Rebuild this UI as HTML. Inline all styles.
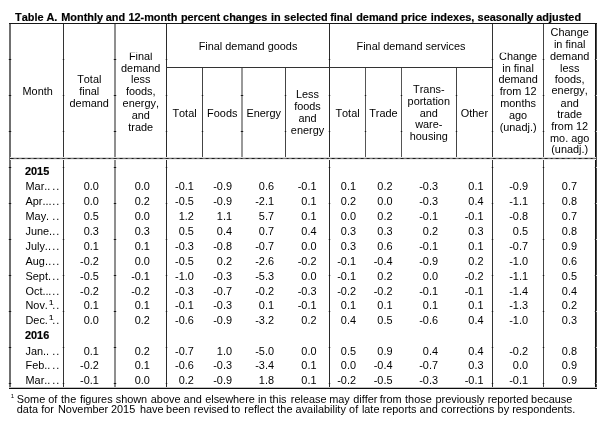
<!DOCTYPE html>
<html><head><meta charset="utf-8"><title>Table A</title>
<style>
html,body{margin:0;padding:0;background:#fff;}
body{font-kerning:none;width:603px;height:429px;position:relative;overflow:hidden;font-family:"Liberation Sans",sans-serif;}
#w{position:absolute;left:0;top:0;width:603px;height:429px;will-change:transform;font-size:10.9px;letter-spacing:0px;color:#000;}
.t{position:absolute;white-space:nowrap;line-height:12px;height:12px;}
.b{font-weight:bold;color:#000;-webkit-text-stroke:0.18px #000;}
.l{position:absolute;}
sup{font-size:8px;line-height:0;vertical-align:4.3px;letter-spacing:0;margin-left:1px;-webkit-text-stroke:0.15px #000;}
</style></head><body><div id="w">
<div class="l" style="left:9px;top:23px;width:2px;height:366px;background:#707070;"></div>
<div class="l" style="left:63px;top:23px;width:1px;height:366px;background:#333;"></div>
<div class="l" style="left:114px;top:23px;width:2px;height:366px;background:#8f8f8f;"></div>
<div class="l" style="left:166px;top:23px;width:1px;height:366px;background:#2a2a2a;"></div>
<div class="l" style="left:202px;top:67px;width:1px;height:92px;background:#444;"></div>
<div class="l" style="left:241px;top:67px;width:2px;height:92px;background:#999;"></div>
<div class="l" style="left:285px;top:67px;width:1px;height:92px;background:#444;"></div>
<div class="l" style="left:329px;top:23px;width:1px;height:366px;background:#2a2a2a;"></div>
<div class="l" style="left:365px;top:67px;width:1px;height:92px;background:#555;"></div>
<div class="l" style="left:401px;top:67px;width:1px;height:92px;background:#555;"></div>
<div class="l" style="left:456px;top:67px;width:1px;height:92px;background:#444;"></div>
<div class="l" style="left:492px;top:23px;width:1px;height:366px;background:#333;"></div>
<div class="l" style="left:543px;top:23px;width:1px;height:366px;background:#444;"></div>
<div class="l" style="left:595px;top:23px;width:1px;height:366px;background:#111;"></div>
<div class="l" style="left:596px;top:23px;width:1px;height:366px;background:#4a4a4a;"></div>
<div class="l" style="left:9px;top:23px;width:588px;height:1px;background:#181818;"></div>
<div class="l" style="left:9px;top:387px;width:588px;height:1px;background:#c0c0c0;"></div>
<div class="l" style="left:9px;top:388px;width:588px;height:1px;background:#0c0c0c;"></div>
<div class="l" style="left:166px;top:67px;width:327px;height:1px;background:#333;"></div>
<div class="l" style="left:10px;top:157px;width:586px;height:1px;background:#dcdcdc;"></div>
<div class="l" style="left:10px;top:158px;width:586px;height:1px;background:#7a7a7a;"></div>
<div class="l" style="left:10px;top:159px;width:586px;height:1px;background:#ececec;"></div>
<div class="l" style="left:10px;top:158px;width:586px;height:1px;background:transparent;background:repeating-linear-gradient(90deg,#1c1c1c 0,#1c1c1c 2.7px,transparent 2.7px,transparent 5.74px);background-position:0.6px 0;"></div>
<div class="l" style="left:8px;top:59px;width:4px;height:1px;background:#d0d0d0;"></div>
<div class="l" style="left:9px;top:59px;width:2px;height:1px;background:#181818;"></div>
<div class="l" style="left:62px;top:59px;width:3px;height:1px;background:#d0d0d0;"></div>
<div class="l" style="left:63px;top:59px;width:1px;height:1px;background:#181818;"></div>
<div class="l" style="left:113px;top:59px;width:4px;height:1px;background:#d0d0d0;"></div>
<div class="l" style="left:114px;top:59px;width:2px;height:1px;background:#181818;"></div>
<div class="l" style="left:165px;top:59px;width:3px;height:1px;background:#d0d0d0;"></div>
<div class="l" style="left:166px;top:59px;width:1px;height:1px;background:#181818;"></div>
<div class="l" style="left:328px;top:59px;width:3px;height:1px;background:#d0d0d0;"></div>
<div class="l" style="left:329px;top:59px;width:1px;height:1px;background:#181818;"></div>
<div class="l" style="left:491px;top:59px;width:3px;height:1px;background:#d0d0d0;"></div>
<div class="l" style="left:492px;top:59px;width:1px;height:1px;background:#181818;"></div>
<div class="l" style="left:542px;top:59px;width:3px;height:1px;background:#d0d0d0;"></div>
<div class="l" style="left:543px;top:59px;width:1px;height:1px;background:#181818;"></div>
<div class="l" style="left:594px;top:59px;width:3px;height:1px;background:#d0d0d0;"></div>
<div class="l" style="left:595px;top:59px;width:1px;height:1px;background:#181818;"></div>
<div class="l" style="left:8px;top:95px;width:4px;height:1px;background:#d0d0d0;"></div>
<div class="l" style="left:9px;top:95px;width:2px;height:1px;background:#181818;"></div>
<div class="l" style="left:62px;top:95px;width:3px;height:1px;background:#d0d0d0;"></div>
<div class="l" style="left:63px;top:95px;width:1px;height:1px;background:#181818;"></div>
<div class="l" style="left:113px;top:95px;width:4px;height:1px;background:#d0d0d0;"></div>
<div class="l" style="left:114px;top:95px;width:2px;height:1px;background:#181818;"></div>
<div class="l" style="left:165px;top:95px;width:3px;height:1px;background:#d0d0d0;"></div>
<div class="l" style="left:166px;top:95px;width:1px;height:1px;background:#181818;"></div>
<div class="l" style="left:201px;top:95px;width:3px;height:1px;background:#d0d0d0;"></div>
<div class="l" style="left:202px;top:95px;width:1px;height:1px;background:#181818;"></div>
<div class="l" style="left:240px;top:95px;width:4px;height:1px;background:#d0d0d0;"></div>
<div class="l" style="left:241px;top:95px;width:2px;height:1px;background:#181818;"></div>
<div class="l" style="left:284px;top:95px;width:3px;height:1px;background:#d0d0d0;"></div>
<div class="l" style="left:285px;top:95px;width:1px;height:1px;background:#181818;"></div>
<div class="l" style="left:328px;top:95px;width:3px;height:1px;background:#d0d0d0;"></div>
<div class="l" style="left:329px;top:95px;width:1px;height:1px;background:#181818;"></div>
<div class="l" style="left:364px;top:95px;width:3px;height:1px;background:#d0d0d0;"></div>
<div class="l" style="left:365px;top:95px;width:1px;height:1px;background:#181818;"></div>
<div class="l" style="left:400px;top:95px;width:3px;height:1px;background:#d0d0d0;"></div>
<div class="l" style="left:401px;top:95px;width:1px;height:1px;background:#181818;"></div>
<div class="l" style="left:455px;top:95px;width:3px;height:1px;background:#d0d0d0;"></div>
<div class="l" style="left:456px;top:95px;width:1px;height:1px;background:#181818;"></div>
<div class="l" style="left:491px;top:95px;width:3px;height:1px;background:#d0d0d0;"></div>
<div class="l" style="left:492px;top:95px;width:1px;height:1px;background:#181818;"></div>
<div class="l" style="left:542px;top:95px;width:3px;height:1px;background:#d0d0d0;"></div>
<div class="l" style="left:543px;top:95px;width:1px;height:1px;background:#181818;"></div>
<div class="l" style="left:594px;top:95px;width:3px;height:1px;background:#d0d0d0;"></div>
<div class="l" style="left:595px;top:95px;width:1px;height:1px;background:#181818;"></div>
<div class="l" style="left:8px;top:131px;width:4px;height:1px;background:#d0d0d0;"></div>
<div class="l" style="left:9px;top:131px;width:2px;height:1px;background:#181818;"></div>
<div class="l" style="left:62px;top:131px;width:3px;height:1px;background:#d0d0d0;"></div>
<div class="l" style="left:63px;top:131px;width:1px;height:1px;background:#181818;"></div>
<div class="l" style="left:113px;top:131px;width:4px;height:1px;background:#d0d0d0;"></div>
<div class="l" style="left:114px;top:131px;width:2px;height:1px;background:#181818;"></div>
<div class="l" style="left:165px;top:131px;width:3px;height:1px;background:#d0d0d0;"></div>
<div class="l" style="left:166px;top:131px;width:1px;height:1px;background:#181818;"></div>
<div class="l" style="left:201px;top:131px;width:3px;height:1px;background:#d0d0d0;"></div>
<div class="l" style="left:202px;top:131px;width:1px;height:1px;background:#181818;"></div>
<div class="l" style="left:240px;top:131px;width:4px;height:1px;background:#d0d0d0;"></div>
<div class="l" style="left:241px;top:131px;width:2px;height:1px;background:#181818;"></div>
<div class="l" style="left:284px;top:131px;width:3px;height:1px;background:#d0d0d0;"></div>
<div class="l" style="left:285px;top:131px;width:1px;height:1px;background:#181818;"></div>
<div class="l" style="left:328px;top:131px;width:3px;height:1px;background:#d0d0d0;"></div>
<div class="l" style="left:329px;top:131px;width:1px;height:1px;background:#181818;"></div>
<div class="l" style="left:364px;top:131px;width:3px;height:1px;background:#d0d0d0;"></div>
<div class="l" style="left:365px;top:131px;width:1px;height:1px;background:#181818;"></div>
<div class="l" style="left:400px;top:131px;width:3px;height:1px;background:#d0d0d0;"></div>
<div class="l" style="left:401px;top:131px;width:1px;height:1px;background:#181818;"></div>
<div class="l" style="left:455px;top:131px;width:3px;height:1px;background:#d0d0d0;"></div>
<div class="l" style="left:456px;top:131px;width:1px;height:1px;background:#181818;"></div>
<div class="l" style="left:491px;top:131px;width:3px;height:1px;background:#d0d0d0;"></div>
<div class="l" style="left:492px;top:131px;width:1px;height:1px;background:#181818;"></div>
<div class="l" style="left:542px;top:131px;width:3px;height:1px;background:#d0d0d0;"></div>
<div class="l" style="left:543px;top:131px;width:1px;height:1px;background:#181818;"></div>
<div class="l" style="left:594px;top:131px;width:3px;height:1px;background:#d0d0d0;"></div>
<div class="l" style="left:595px;top:131px;width:1px;height:1px;background:#181818;"></div>
<div class="l" style="left:8px;top:167px;width:4px;height:1px;background:#d0d0d0;"></div>
<div class="l" style="left:9px;top:167px;width:2px;height:1px;background:#181818;"></div>
<div class="l" style="left:62px;top:167px;width:3px;height:1px;background:#d0d0d0;"></div>
<div class="l" style="left:63px;top:167px;width:1px;height:1px;background:#181818;"></div>
<div class="l" style="left:113px;top:167px;width:4px;height:1px;background:#d0d0d0;"></div>
<div class="l" style="left:114px;top:167px;width:2px;height:1px;background:#181818;"></div>
<div class="l" style="left:165px;top:167px;width:3px;height:1px;background:#d0d0d0;"></div>
<div class="l" style="left:166px;top:167px;width:1px;height:1px;background:#181818;"></div>
<div class="l" style="left:328px;top:167px;width:3px;height:1px;background:#d0d0d0;"></div>
<div class="l" style="left:329px;top:167px;width:1px;height:1px;background:#181818;"></div>
<div class="l" style="left:491px;top:167px;width:3px;height:1px;background:#d0d0d0;"></div>
<div class="l" style="left:492px;top:167px;width:1px;height:1px;background:#181818;"></div>
<div class="l" style="left:542px;top:167px;width:3px;height:1px;background:#d0d0d0;"></div>
<div class="l" style="left:543px;top:167px;width:1px;height:1px;background:#181818;"></div>
<div class="l" style="left:594px;top:167px;width:3px;height:1px;background:#d0d0d0;"></div>
<div class="l" style="left:595px;top:167px;width:1px;height:1px;background:#181818;"></div>
<div class="l" style="left:8px;top:203px;width:4px;height:1px;background:#d0d0d0;"></div>
<div class="l" style="left:9px;top:203px;width:2px;height:1px;background:#181818;"></div>
<div class="l" style="left:62px;top:203px;width:3px;height:1px;background:#d0d0d0;"></div>
<div class="l" style="left:63px;top:203px;width:1px;height:1px;background:#181818;"></div>
<div class="l" style="left:113px;top:203px;width:4px;height:1px;background:#d0d0d0;"></div>
<div class="l" style="left:114px;top:203px;width:2px;height:1px;background:#181818;"></div>
<div class="l" style="left:165px;top:203px;width:3px;height:1px;background:#d0d0d0;"></div>
<div class="l" style="left:166px;top:203px;width:1px;height:1px;background:#181818;"></div>
<div class="l" style="left:328px;top:203px;width:3px;height:1px;background:#d0d0d0;"></div>
<div class="l" style="left:329px;top:203px;width:1px;height:1px;background:#181818;"></div>
<div class="l" style="left:491px;top:203px;width:3px;height:1px;background:#d0d0d0;"></div>
<div class="l" style="left:492px;top:203px;width:1px;height:1px;background:#181818;"></div>
<div class="l" style="left:542px;top:203px;width:3px;height:1px;background:#d0d0d0;"></div>
<div class="l" style="left:543px;top:203px;width:1px;height:1px;background:#181818;"></div>
<div class="l" style="left:594px;top:203px;width:3px;height:1px;background:#d0d0d0;"></div>
<div class="l" style="left:595px;top:203px;width:1px;height:1px;background:#181818;"></div>
<div class="l" style="left:8px;top:239px;width:4px;height:1px;background:#d0d0d0;"></div>
<div class="l" style="left:9px;top:239px;width:2px;height:1px;background:#181818;"></div>
<div class="l" style="left:62px;top:239px;width:3px;height:1px;background:#d0d0d0;"></div>
<div class="l" style="left:63px;top:239px;width:1px;height:1px;background:#181818;"></div>
<div class="l" style="left:113px;top:239px;width:4px;height:1px;background:#d0d0d0;"></div>
<div class="l" style="left:114px;top:239px;width:2px;height:1px;background:#181818;"></div>
<div class="l" style="left:165px;top:239px;width:3px;height:1px;background:#d0d0d0;"></div>
<div class="l" style="left:166px;top:239px;width:1px;height:1px;background:#181818;"></div>
<div class="l" style="left:328px;top:239px;width:3px;height:1px;background:#d0d0d0;"></div>
<div class="l" style="left:329px;top:239px;width:1px;height:1px;background:#181818;"></div>
<div class="l" style="left:491px;top:239px;width:3px;height:1px;background:#d0d0d0;"></div>
<div class="l" style="left:492px;top:239px;width:1px;height:1px;background:#181818;"></div>
<div class="l" style="left:542px;top:239px;width:3px;height:1px;background:#d0d0d0;"></div>
<div class="l" style="left:543px;top:239px;width:1px;height:1px;background:#181818;"></div>
<div class="l" style="left:594px;top:239px;width:3px;height:1px;background:#d0d0d0;"></div>
<div class="l" style="left:595px;top:239px;width:1px;height:1px;background:#181818;"></div>
<div class="l" style="left:8px;top:275px;width:4px;height:1px;background:#d0d0d0;"></div>
<div class="l" style="left:9px;top:275px;width:2px;height:1px;background:#181818;"></div>
<div class="l" style="left:62px;top:275px;width:3px;height:1px;background:#d0d0d0;"></div>
<div class="l" style="left:63px;top:275px;width:1px;height:1px;background:#181818;"></div>
<div class="l" style="left:113px;top:275px;width:4px;height:1px;background:#d0d0d0;"></div>
<div class="l" style="left:114px;top:275px;width:2px;height:1px;background:#181818;"></div>
<div class="l" style="left:165px;top:275px;width:3px;height:1px;background:#d0d0d0;"></div>
<div class="l" style="left:166px;top:275px;width:1px;height:1px;background:#181818;"></div>
<div class="l" style="left:328px;top:275px;width:3px;height:1px;background:#d0d0d0;"></div>
<div class="l" style="left:329px;top:275px;width:1px;height:1px;background:#181818;"></div>
<div class="l" style="left:491px;top:275px;width:3px;height:1px;background:#d0d0d0;"></div>
<div class="l" style="left:492px;top:275px;width:1px;height:1px;background:#181818;"></div>
<div class="l" style="left:542px;top:275px;width:3px;height:1px;background:#d0d0d0;"></div>
<div class="l" style="left:543px;top:275px;width:1px;height:1px;background:#181818;"></div>
<div class="l" style="left:594px;top:275px;width:3px;height:1px;background:#d0d0d0;"></div>
<div class="l" style="left:595px;top:275px;width:1px;height:1px;background:#181818;"></div>
<div class="l" style="left:8px;top:311px;width:4px;height:1px;background:#d0d0d0;"></div>
<div class="l" style="left:9px;top:311px;width:2px;height:1px;background:#181818;"></div>
<div class="l" style="left:62px;top:311px;width:3px;height:1px;background:#d0d0d0;"></div>
<div class="l" style="left:63px;top:311px;width:1px;height:1px;background:#181818;"></div>
<div class="l" style="left:113px;top:311px;width:4px;height:1px;background:#d0d0d0;"></div>
<div class="l" style="left:114px;top:311px;width:2px;height:1px;background:#181818;"></div>
<div class="l" style="left:165px;top:311px;width:3px;height:1px;background:#d0d0d0;"></div>
<div class="l" style="left:166px;top:311px;width:1px;height:1px;background:#181818;"></div>
<div class="l" style="left:328px;top:311px;width:3px;height:1px;background:#d0d0d0;"></div>
<div class="l" style="left:329px;top:311px;width:1px;height:1px;background:#181818;"></div>
<div class="l" style="left:491px;top:311px;width:3px;height:1px;background:#d0d0d0;"></div>
<div class="l" style="left:492px;top:311px;width:1px;height:1px;background:#181818;"></div>
<div class="l" style="left:542px;top:311px;width:3px;height:1px;background:#d0d0d0;"></div>
<div class="l" style="left:543px;top:311px;width:1px;height:1px;background:#181818;"></div>
<div class="l" style="left:594px;top:311px;width:3px;height:1px;background:#d0d0d0;"></div>
<div class="l" style="left:595px;top:311px;width:1px;height:1px;background:#181818;"></div>
<div class="l" style="left:8px;top:347px;width:4px;height:1px;background:#d0d0d0;"></div>
<div class="l" style="left:9px;top:347px;width:2px;height:1px;background:#181818;"></div>
<div class="l" style="left:62px;top:347px;width:3px;height:1px;background:#d0d0d0;"></div>
<div class="l" style="left:63px;top:347px;width:1px;height:1px;background:#181818;"></div>
<div class="l" style="left:113px;top:347px;width:4px;height:1px;background:#d0d0d0;"></div>
<div class="l" style="left:114px;top:347px;width:2px;height:1px;background:#181818;"></div>
<div class="l" style="left:165px;top:347px;width:3px;height:1px;background:#d0d0d0;"></div>
<div class="l" style="left:166px;top:347px;width:1px;height:1px;background:#181818;"></div>
<div class="l" style="left:328px;top:347px;width:3px;height:1px;background:#d0d0d0;"></div>
<div class="l" style="left:329px;top:347px;width:1px;height:1px;background:#181818;"></div>
<div class="l" style="left:491px;top:347px;width:3px;height:1px;background:#d0d0d0;"></div>
<div class="l" style="left:492px;top:347px;width:1px;height:1px;background:#181818;"></div>
<div class="l" style="left:542px;top:347px;width:3px;height:1px;background:#d0d0d0;"></div>
<div class="l" style="left:543px;top:347px;width:1px;height:1px;background:#181818;"></div>
<div class="l" style="left:594px;top:347px;width:3px;height:1px;background:#d0d0d0;"></div>
<div class="l" style="left:595px;top:347px;width:1px;height:1px;background:#181818;"></div>
<div class="l" style="left:8px;top:383px;width:4px;height:1px;background:#d0d0d0;"></div>
<div class="l" style="left:9px;top:383px;width:2px;height:1px;background:#181818;"></div>
<div class="l" style="left:62px;top:383px;width:3px;height:1px;background:#d0d0d0;"></div>
<div class="l" style="left:63px;top:383px;width:1px;height:1px;background:#181818;"></div>
<div class="l" style="left:113px;top:383px;width:4px;height:1px;background:#d0d0d0;"></div>
<div class="l" style="left:114px;top:383px;width:2px;height:1px;background:#181818;"></div>
<div class="l" style="left:165px;top:383px;width:3px;height:1px;background:#d0d0d0;"></div>
<div class="l" style="left:166px;top:383px;width:1px;height:1px;background:#181818;"></div>
<div class="l" style="left:328px;top:383px;width:3px;height:1px;background:#d0d0d0;"></div>
<div class="l" style="left:329px;top:383px;width:1px;height:1px;background:#181818;"></div>
<div class="l" style="left:491px;top:383px;width:3px;height:1px;background:#d0d0d0;"></div>
<div class="l" style="left:492px;top:383px;width:1px;height:1px;background:#181818;"></div>
<div class="l" style="left:542px;top:383px;width:3px;height:1px;background:#d0d0d0;"></div>
<div class="l" style="left:543px;top:383px;width:1px;height:1px;background:#181818;"></div>
<div class="l" style="left:594px;top:383px;width:3px;height:1px;background:#d0d0d0;"></div>
<div class="l" style="left:595px;top:383px;width:1px;height:1px;background:#181818;"></div>
<div class="t b" style="top:11.00px;left:15.10px;">Table</div>
<div class="t b" style="top:11.00px;left:46.40px;">A.</div>
<div class="t b" style="top:11.00px;left:61.30px;">Monthly</div>
<div class="t b" style="top:11.00px;left:105.80px;">and</div>
<div class="t b" style="top:11.00px;left:128.40px;">12-month</div>
<div class="t b" style="top:11.00px;left:180.90px;">percent</div>
<div class="t b" style="top:11.00px;left:223.10px;">changes</div>
<div class="t b" style="top:11.00px;left:270.90px;">in</div>
<div class="t b" style="top:11.00px;left:284.10px;">selected</div>
<div class="t b" style="top:11.00px;left:330.20px;">final</div>
<div class="t b" style="top:11.00px;left:356.20px;">demand</div>
<div class="t b" style="top:11.00px;left:401.10px;">price</div>
<div class="t b" style="top:11.00px;left:430.70px;">indexes,</div>
<div class="t b" style="top:11.00px;left:477.60px;">seasonally</div>
<div class="t b" style="top:11.00px;left:536.30px;">adjusted</div>
<div class="t" style="top:85.00px;left:22.50px;">Month</div>
<div class="t" style="top:73.00px;left:-60.75px;width:300px;text-align:center;">Total</div>
<div class="t" style="top:85.00px;left:-60.75px;width:300px;text-align:center;">final</div>
<div class="t" style="top:97.00px;left:-60.75px;width:300px;text-align:center;">demand</div>
<div class="t" style="top:50.00px;left:-9.25px;width:300px;text-align:center;">Final</div>
<div class="t" style="top:62.00px;left:-9.25px;width:300px;text-align:center;">demand</div>
<div class="t" style="top:73.00px;left:-9.25px;width:300px;text-align:center;">less</div>
<div class="t" style="top:85.00px;left:-9.25px;width:300px;text-align:center;">foods,</div>
<div class="t" style="top:97.00px;left:-9.25px;width:300px;text-align:center;">energy,</div>
<div class="t" style="top:109.00px;left:-9.25px;width:300px;text-align:center;">and</div>
<div class="t" style="top:121.00px;left:-9.25px;width:300px;text-align:center;">trade</div>
<div class="t" style="top:40.00px;left:98.00px;width:300px;text-align:center;">Final demand goods</div>
<div class="t" style="top:40.00px;left:261.00px;width:300px;text-align:center;">Final demand services</div>
<div class="t" style="top:107.00px;left:34.50px;width:300px;text-align:center;">Total</div>
<div class="t" style="top:107.00px;left:72.25px;width:300px;text-align:center;">Foods</div>
<div class="t" style="top:107.00px;left:113.75px;width:300px;text-align:center;">Energy</div>
<div class="t" style="top:88.00px;left:157.50px;width:300px;text-align:center;">Less</div>
<div class="t" style="top:100.00px;left:157.50px;width:300px;text-align:center;">foods</div>
<div class="t" style="top:112.00px;left:157.50px;width:300px;text-align:center;">and</div>
<div class="t" style="top:124.00px;left:157.50px;width:300px;text-align:center;">energy</div>
<div class="t" style="top:107.00px;left:197.50px;width:300px;text-align:center;">Total</div>
<div class="t" style="top:107.00px;left:233.40px;width:300px;text-align:center;">Trade</div>
<div class="t" style="top:83.00px;left:278.80px;width:300px;text-align:center;">Trans-</div>
<div class="t" style="top:95.00px;left:278.80px;width:300px;text-align:center;">portation</div>
<div class="t" style="top:107.00px;left:278.80px;width:300px;text-align:center;">and</div>
<div class="t" style="top:118.00px;left:278.80px;width:300px;text-align:center;">ware-</div>
<div class="t" style="top:130.00px;left:278.80px;width:300px;text-align:center;">housing</div>
<div class="t" style="top:107.00px;left:324.40px;width:300px;text-align:center;">Other</div>
<div class="t" style="top:50.00px;left:368.10px;width:300px;text-align:center;">Change</div>
<div class="t" style="top:62.00px;left:368.10px;width:300px;text-align:center;">in final</div>
<div class="t" style="top:73.00px;left:368.10px;width:300px;text-align:center;">demand</div>
<div class="t" style="top:85.00px;left:368.10px;width:300px;text-align:center;">from 12</div>
<div class="t" style="top:97.00px;left:368.10px;width:300px;text-align:center;">months</div>
<div class="t" style="top:109.00px;left:368.10px;width:300px;text-align:center;">ago</div>
<div class="t" style="top:121.00px;left:368.10px;width:300px;text-align:center;">(unadj.)</div>
<div class="t" style="top:26.00px;left:419.70px;width:300px;text-align:center;">Change</div>
<div class="t" style="top:38.00px;left:419.70px;width:300px;text-align:center;">in final</div>
<div class="t" style="top:50.00px;left:419.70px;width:300px;text-align:center;">demand</div>
<div class="t" style="top:62.00px;left:419.70px;width:300px;text-align:center;">less</div>
<div class="t" style="top:73.00px;left:419.70px;width:300px;text-align:center;">foods,</div>
<div class="t" style="top:84.00px;left:419.70px;width:300px;text-align:center;">energy,</div>
<div class="t" style="top:97.00px;left:419.70px;width:300px;text-align:center;">and</div>
<div class="t" style="top:108.00px;left:419.70px;width:300px;text-align:center;">trade</div>
<div class="t" style="top:120.00px;left:419.70px;width:300px;text-align:center;">from 12</div>
<div class="t" style="top:132.00px;left:419.70px;width:300px;text-align:center;">mo. ago</div>
<div class="t" style="top:143.00px;left:419.70px;width:300px;text-align:center;">(unadj.)</div>
<div class="l" style="left:126px;top:52px;width:30px;height:1px;background:rgba(255,255,255,0.7);"></div>
<div class="l" style="left:498px;top:52px;width:40px;height:1px;background:rgba(255,255,255,0.7);"></div>
<div class="t b" style="top:165.00px;left:25.00px;">2015</div>
<div class="t b" style="top:329.00px;left:25.00px;">2016</div>
<div class="t" style="top:180.00px;left:25.50px;">Mar..</div>
<div class="t" style="top:180.00px;left:-239.80px;width:300px;text-align:right;letter-spacing:0.97px;">..</div>
<div class="t" style="top:180.00px;left:-201.20px;width:300px;text-align:right;">0.0</div>
<div class="t" style="top:180.00px;left:-150.10px;width:300px;text-align:right;">0.0</div>
<div class="t" style="top:180.00px;left:-106.20px;width:300px;text-align:right;">-0.1</div>
<div class="t" style="top:180.00px;left:-68.00px;width:300px;text-align:right;">-0.9</div>
<div class="t" style="top:180.00px;left:-26.00px;width:300px;text-align:right;">0.6</div>
<div class="t" style="top:180.00px;left:16.50px;width:300px;text-align:right;">-0.1</div>
<div class="t" style="top:180.00px;left:56.00px;width:300px;text-align:right;">0.1</div>
<div class="t" style="top:180.00px;left:92.50px;width:300px;text-align:right;">0.2</div>
<div class="t" style="top:180.00px;left:138.00px;width:300px;text-align:right;">-0.3</div>
<div class="t" style="top:180.00px;left:183.50px;width:300px;text-align:right;">0.1</div>
<div class="t" style="top:180.00px;left:228.00px;width:300px;text-align:right;">-0.9</div>
<div class="t" style="top:180.00px;left:277.00px;width:300px;text-align:right;">0.7</div>
<div class="t" style="top:195.00px;left:25.50px;">Apr...</div>
<div class="t" style="top:195.00px;left:-239.80px;width:300px;text-align:right;letter-spacing:0.97px;">..</div>
<div class="t" style="top:195.00px;left:-201.20px;width:300px;text-align:right;">0.0</div>
<div class="t" style="top:195.00px;left:-150.10px;width:300px;text-align:right;">0.2</div>
<div class="t" style="top:195.00px;left:-106.20px;width:300px;text-align:right;">-0.5</div>
<div class="t" style="top:195.00px;left:-68.00px;width:300px;text-align:right;">-0.9</div>
<div class="t" style="top:195.00px;left:-26.00px;width:300px;text-align:right;">-2.1</div>
<div class="t" style="top:195.00px;left:16.50px;width:300px;text-align:right;">0.1</div>
<div class="t" style="top:195.00px;left:56.00px;width:300px;text-align:right;">0.2</div>
<div class="t" style="top:195.00px;left:92.50px;width:300px;text-align:right;">0.0</div>
<div class="t" style="top:195.00px;left:138.00px;width:300px;text-align:right;">-0.3</div>
<div class="t" style="top:195.00px;left:183.50px;width:300px;text-align:right;">0.4</div>
<div class="t" style="top:195.00px;left:228.00px;width:300px;text-align:right;">-1.1</div>
<div class="t" style="top:195.00px;left:277.00px;width:300px;text-align:right;">0.8</div>
<div class="t" style="top:210.00px;left:25.50px;">May.</div>
<div class="t" style="top:210.00px;left:-239.80px;width:300px;text-align:right;letter-spacing:0.97px;">..</div>
<div class="t" style="top:210.00px;left:-201.20px;width:300px;text-align:right;">0.5</div>
<div class="t" style="top:210.00px;left:-150.10px;width:300px;text-align:right;">0.0</div>
<div class="t" style="top:210.00px;left:-106.20px;width:300px;text-align:right;">1.2</div>
<div class="t" style="top:210.00px;left:-68.00px;width:300px;text-align:right;">1.1</div>
<div class="t" style="top:210.00px;left:-26.00px;width:300px;text-align:right;">5.7</div>
<div class="t" style="top:210.00px;left:16.50px;width:300px;text-align:right;">0.1</div>
<div class="t" style="top:210.00px;left:56.00px;width:300px;text-align:right;">0.0</div>
<div class="t" style="top:210.00px;left:92.50px;width:300px;text-align:right;">0.2</div>
<div class="t" style="top:210.00px;left:138.00px;width:300px;text-align:right;">-0.1</div>
<div class="t" style="top:210.00px;left:183.50px;width:300px;text-align:right;">-0.1</div>
<div class="t" style="top:210.00px;left:228.00px;width:300px;text-align:right;">-0.8</div>
<div class="t" style="top:210.00px;left:277.00px;width:300px;text-align:right;">0.7</div>
<div class="t" style="top:225.00px;left:25.50px;">June.</div>
<div class="t" style="top:225.00px;left:-239.80px;width:300px;text-align:right;letter-spacing:0.97px;">..</div>
<div class="t" style="top:225.00px;left:-201.20px;width:300px;text-align:right;">0.3</div>
<div class="t" style="top:225.00px;left:-150.10px;width:300px;text-align:right;">0.3</div>
<div class="t" style="top:225.00px;left:-106.20px;width:300px;text-align:right;">0.5</div>
<div class="t" style="top:225.00px;left:-68.00px;width:300px;text-align:right;">0.4</div>
<div class="t" style="top:225.00px;left:-26.00px;width:300px;text-align:right;">0.7</div>
<div class="t" style="top:225.00px;left:16.50px;width:300px;text-align:right;">0.4</div>
<div class="t" style="top:225.00px;left:56.00px;width:300px;text-align:right;">0.3</div>
<div class="t" style="top:225.00px;left:92.50px;width:300px;text-align:right;">0.3</div>
<div class="t" style="top:225.00px;left:138.00px;width:300px;text-align:right;">0.2</div>
<div class="t" style="top:225.00px;left:183.50px;width:300px;text-align:right;">0.3</div>
<div class="t" style="top:225.00px;left:228.00px;width:300px;text-align:right;">0.5</div>
<div class="t" style="top:225.00px;left:277.00px;width:300px;text-align:right;">0.8</div>
<div class="t" style="top:240.00px;left:25.50px;">July..</div>
<div class="t" style="top:240.00px;left:-239.80px;width:300px;text-align:right;letter-spacing:0.97px;">..</div>
<div class="t" style="top:240.00px;left:-201.20px;width:300px;text-align:right;">0.1</div>
<div class="t" style="top:240.00px;left:-150.10px;width:300px;text-align:right;">0.1</div>
<div class="t" style="top:240.00px;left:-106.20px;width:300px;text-align:right;">-0.3</div>
<div class="t" style="top:240.00px;left:-68.00px;width:300px;text-align:right;">-0.8</div>
<div class="t" style="top:240.00px;left:-26.00px;width:300px;text-align:right;">-0.7</div>
<div class="t" style="top:240.00px;left:16.50px;width:300px;text-align:right;">0.0</div>
<div class="t" style="top:240.00px;left:56.00px;width:300px;text-align:right;">0.3</div>
<div class="t" style="top:240.00px;left:92.50px;width:300px;text-align:right;">0.6</div>
<div class="t" style="top:240.00px;left:138.00px;width:300px;text-align:right;">-0.1</div>
<div class="t" style="top:240.00px;left:183.50px;width:300px;text-align:right;">0.1</div>
<div class="t" style="top:240.00px;left:228.00px;width:300px;text-align:right;">-0.7</div>
<div class="t" style="top:240.00px;left:277.00px;width:300px;text-align:right;">0.9</div>
<div class="t" style="top:255.00px;left:25.50px;">Aug.</div>
<div class="t" style="top:255.00px;left:-239.80px;width:300px;text-align:right;letter-spacing:0.97px;">...</div>
<div class="t" style="top:255.00px;left:-201.20px;width:300px;text-align:right;">-0.2</div>
<div class="t" style="top:255.00px;left:-150.10px;width:300px;text-align:right;">0.0</div>
<div class="t" style="top:255.00px;left:-106.20px;width:300px;text-align:right;">-0.5</div>
<div class="t" style="top:255.00px;left:-68.00px;width:300px;text-align:right;">0.2</div>
<div class="t" style="top:255.00px;left:-26.00px;width:300px;text-align:right;">-2.6</div>
<div class="t" style="top:255.00px;left:16.50px;width:300px;text-align:right;">-0.2</div>
<div class="t" style="top:255.00px;left:56.00px;width:300px;text-align:right;">-0.1</div>
<div class="t" style="top:255.00px;left:92.50px;width:300px;text-align:right;">-0.4</div>
<div class="t" style="top:255.00px;left:138.00px;width:300px;text-align:right;">-0.9</div>
<div class="t" style="top:255.00px;left:183.50px;width:300px;text-align:right;">0.2</div>
<div class="t" style="top:255.00px;left:228.00px;width:300px;text-align:right;">-1.0</div>
<div class="t" style="top:255.00px;left:277.00px;width:300px;text-align:right;">0.6</div>
<div class="t" style="top:270.00px;left:25.50px;">Sept.</div>
<div class="t" style="top:270.00px;left:-239.80px;width:300px;text-align:right;letter-spacing:0.97px;">..</div>
<div class="t" style="top:270.00px;left:-201.20px;width:300px;text-align:right;">-0.5</div>
<div class="t" style="top:270.00px;left:-150.10px;width:300px;text-align:right;">-0.1</div>
<div class="t" style="top:270.00px;left:-106.20px;width:300px;text-align:right;">-1.0</div>
<div class="t" style="top:270.00px;left:-68.00px;width:300px;text-align:right;">-0.3</div>
<div class="t" style="top:270.00px;left:-26.00px;width:300px;text-align:right;">-5.3</div>
<div class="t" style="top:270.00px;left:16.50px;width:300px;text-align:right;">0.0</div>
<div class="t" style="top:270.00px;left:56.00px;width:300px;text-align:right;">-0.1</div>
<div class="t" style="top:270.00px;left:92.50px;width:300px;text-align:right;">0.2</div>
<div class="t" style="top:270.00px;left:138.00px;width:300px;text-align:right;">0.0</div>
<div class="t" style="top:270.00px;left:183.50px;width:300px;text-align:right;">-0.2</div>
<div class="t" style="top:270.00px;left:228.00px;width:300px;text-align:right;">-1.1</div>
<div class="t" style="top:270.00px;left:277.00px;width:300px;text-align:right;">0.5</div>
<div class="t" style="top:285.00px;left:25.50px;">Oct..</div>
<div class="t" style="top:285.00px;left:-239.80px;width:300px;text-align:right;letter-spacing:0.97px;">...</div>
<div class="t" style="top:285.00px;left:-201.20px;width:300px;text-align:right;">-0.2</div>
<div class="t" style="top:285.00px;left:-150.10px;width:300px;text-align:right;">-0.2</div>
<div class="t" style="top:285.00px;left:-106.20px;width:300px;text-align:right;">-0.3</div>
<div class="t" style="top:285.00px;left:-68.00px;width:300px;text-align:right;">-0.7</div>
<div class="t" style="top:285.00px;left:-26.00px;width:300px;text-align:right;">-0.2</div>
<div class="t" style="top:285.00px;left:16.50px;width:300px;text-align:right;">-0.3</div>
<div class="t" style="top:285.00px;left:56.00px;width:300px;text-align:right;">-0.2</div>
<div class="t" style="top:285.00px;left:92.50px;width:300px;text-align:right;">-0.2</div>
<div class="t" style="top:285.00px;left:138.00px;width:300px;text-align:right;">-0.1</div>
<div class="t" style="top:285.00px;left:183.50px;width:300px;text-align:right;">-0.1</div>
<div class="t" style="top:285.00px;left:228.00px;width:300px;text-align:right;">-1.4</div>
<div class="t" style="top:285.00px;left:277.00px;width:300px;text-align:right;">0.4</div>
<div class="t" style="top:299.00px;left:25.50px;">Nov.<sup>1</sup></div>
<div class="t" style="top:299.00px;left:-239.80px;width:300px;text-align:right;letter-spacing:0.97px;">..</div>
<div class="t" style="top:299.00px;left:-201.20px;width:300px;text-align:right;">0.1</div>
<div class="t" style="top:299.00px;left:-150.10px;width:300px;text-align:right;">0.1</div>
<div class="t" style="top:299.00px;left:-106.20px;width:300px;text-align:right;">-0.1</div>
<div class="t" style="top:299.00px;left:-68.00px;width:300px;text-align:right;">-0.3</div>
<div class="t" style="top:299.00px;left:-26.00px;width:300px;text-align:right;">0.1</div>
<div class="t" style="top:299.00px;left:16.50px;width:300px;text-align:right;">-0.1</div>
<div class="t" style="top:299.00px;left:56.00px;width:300px;text-align:right;">0.1</div>
<div class="t" style="top:299.00px;left:92.50px;width:300px;text-align:right;">0.1</div>
<div class="t" style="top:299.00px;left:138.00px;width:300px;text-align:right;">0.1</div>
<div class="t" style="top:299.00px;left:183.50px;width:300px;text-align:right;">0.1</div>
<div class="t" style="top:299.00px;left:228.00px;width:300px;text-align:right;">-1.3</div>
<div class="t" style="top:299.00px;left:277.00px;width:300px;text-align:right;">0.2</div>
<div class="t" style="top:314.00px;left:25.50px;">Dec.<sup>1</sup></div>
<div class="t" style="top:314.00px;left:-239.80px;width:300px;text-align:right;letter-spacing:0.97px;">..</div>
<div class="t" style="top:314.00px;left:-201.20px;width:300px;text-align:right;">0.0</div>
<div class="t" style="top:314.00px;left:-150.10px;width:300px;text-align:right;">0.2</div>
<div class="t" style="top:314.00px;left:-106.20px;width:300px;text-align:right;">-0.6</div>
<div class="t" style="top:314.00px;left:-68.00px;width:300px;text-align:right;">-0.9</div>
<div class="t" style="top:314.00px;left:-26.00px;width:300px;text-align:right;">-3.2</div>
<div class="t" style="top:314.00px;left:16.50px;width:300px;text-align:right;">0.2</div>
<div class="t" style="top:314.00px;left:56.00px;width:300px;text-align:right;">0.4</div>
<div class="t" style="top:314.00px;left:92.50px;width:300px;text-align:right;">0.5</div>
<div class="t" style="top:314.00px;left:138.00px;width:300px;text-align:right;">-0.6</div>
<div class="t" style="top:314.00px;left:183.50px;width:300px;text-align:right;">0.4</div>
<div class="t" style="top:314.00px;left:228.00px;width:300px;text-align:right;">-1.0</div>
<div class="t" style="top:314.00px;left:277.00px;width:300px;text-align:right;">0.3</div>
<div class="t" style="top:345.00px;left:25.50px;">Jan..</div>
<div class="t" style="top:345.00px;left:-239.80px;width:300px;text-align:right;letter-spacing:0.97px;">..</div>
<div class="t" style="top:345.00px;left:-201.20px;width:300px;text-align:right;">0.1</div>
<div class="t" style="top:345.00px;left:-150.10px;width:300px;text-align:right;">0.2</div>
<div class="t" style="top:345.00px;left:-106.20px;width:300px;text-align:right;">-0.7</div>
<div class="t" style="top:345.00px;left:-68.00px;width:300px;text-align:right;">1.0</div>
<div class="t" style="top:345.00px;left:-26.00px;width:300px;text-align:right;">-5.0</div>
<div class="t" style="top:345.00px;left:16.50px;width:300px;text-align:right;">0.0</div>
<div class="t" style="top:345.00px;left:56.00px;width:300px;text-align:right;">0.5</div>
<div class="t" style="top:345.00px;left:92.50px;width:300px;text-align:right;">0.9</div>
<div class="t" style="top:345.00px;left:138.00px;width:300px;text-align:right;">0.4</div>
<div class="t" style="top:345.00px;left:183.50px;width:300px;text-align:right;">0.4</div>
<div class="t" style="top:345.00px;left:228.00px;width:300px;text-align:right;">-0.2</div>
<div class="t" style="top:345.00px;left:277.00px;width:300px;text-align:right;">0.8</div>
<div class="t" style="top:359.00px;left:25.50px;">Feb..</div>
<div class="t" style="top:359.00px;left:-239.80px;width:300px;text-align:right;letter-spacing:0.97px;">..</div>
<div class="t" style="top:359.00px;left:-201.20px;width:300px;text-align:right;">-0.2</div>
<div class="t" style="top:359.00px;left:-150.10px;width:300px;text-align:right;">0.1</div>
<div class="t" style="top:359.00px;left:-106.20px;width:300px;text-align:right;">-0.6</div>
<div class="t" style="top:359.00px;left:-68.00px;width:300px;text-align:right;">-0.3</div>
<div class="t" style="top:359.00px;left:-26.00px;width:300px;text-align:right;">-3.4</div>
<div class="t" style="top:359.00px;left:16.50px;width:300px;text-align:right;">0.1</div>
<div class="t" style="top:359.00px;left:56.00px;width:300px;text-align:right;">0.0</div>
<div class="t" style="top:359.00px;left:92.50px;width:300px;text-align:right;">-0.4</div>
<div class="t" style="top:359.00px;left:138.00px;width:300px;text-align:right;">-0.7</div>
<div class="t" style="top:359.00px;left:183.50px;width:300px;text-align:right;">0.3</div>
<div class="t" style="top:359.00px;left:228.00px;width:300px;text-align:right;">0.0</div>
<div class="t" style="top:359.00px;left:277.00px;width:300px;text-align:right;">0.9</div>
<div class="t" style="top:374.00px;left:25.50px;">Mar..</div>
<div class="t" style="top:374.00px;left:-239.80px;width:300px;text-align:right;letter-spacing:0.97px;">..</div>
<div class="t" style="top:374.00px;left:-201.20px;width:300px;text-align:right;">-0.1</div>
<div class="t" style="top:374.00px;left:-150.10px;width:300px;text-align:right;">0.0</div>
<div class="t" style="top:374.00px;left:-106.20px;width:300px;text-align:right;">0.2</div>
<div class="t" style="top:374.00px;left:-68.00px;width:300px;text-align:right;">-0.9</div>
<div class="t" style="top:374.00px;left:-26.00px;width:300px;text-align:right;">1.8</div>
<div class="t" style="top:374.00px;left:16.50px;width:300px;text-align:right;">0.1</div>
<div class="t" style="top:374.00px;left:56.00px;width:300px;text-align:right;">-0.2</div>
<div class="t" style="top:374.00px;left:92.50px;width:300px;text-align:right;">-0.5</div>
<div class="t" style="top:374.00px;left:138.00px;width:300px;text-align:right;">-0.3</div>
<div class="t" style="top:374.00px;left:183.50px;width:300px;text-align:right;">-0.1</div>
<div class="t" style="top:374.00px;left:228.00px;width:300px;text-align:right;">-0.1</div>
<div class="t" style="top:374.00px;left:277.00px;width:300px;text-align:right;">0.9</div>
<div class="t" style="top:390.00px;left:10.80px;font-size:6px;">1</div>
<div class="t" style="top:393.00px;left:16.80px;">Some</div>
<div class="t" style="top:393.00px;left:48.30px;">of</div>
<div class="t" style="top:393.00px;left:61.10px;">the</div>
<div class="t" style="top:393.00px;left:79.90px;">figures</div>
<div class="t" style="top:393.00px;left:115.70px;">shown</div>
<div class="t" style="top:393.00px;left:150.80px;">above</div>
<div class="t" style="top:393.00px;left:183.60px;">and</div>
<div class="t" style="top:393.00px;left:205.20px;">elsewhere</div>
<div class="t" style="top:393.00px;left:258.10px;">in</div>
<div class="t" style="top:393.00px;left:269.60px;">this</div>
<div class="t" style="top:393.00px;left:290.80px;">release</div>
<div class="t" style="top:393.00px;left:329.20px;">may</div>
<div class="t" style="top:393.00px;left:353.20px;">differ</div>
<div class="t" style="top:393.00px;left:379.80px;">from</div>
<div class="t" style="top:393.00px;left:405.10px;">those</div>
<div class="t" style="top:393.00px;left:435.50px;">previously</div>
<div class="t" style="top:393.00px;left:487.70px;">reported</div>
<div class="t" style="top:393.00px;left:531.10px;">because</div>
<div class="t" style="top:403.00px;left:16.80px;">data</div>
<div class="t" style="top:403.00px;left:41.20px;">for</div>
<div class="t" style="top:403.00px;left:58.00px;">November</div>
<div class="t" style="top:403.00px;left:111.00px;">2015</div>
<div class="t" style="top:403.00px;left:139.90px;">have</div>
<div class="t" style="top:403.00px;left:166.10px;">been</div>
<div class="t" style="top:403.00px;left:193.80px;">revised</div>
<div class="t" style="top:403.00px;left:231.20px;">to</div>
<div class="t" style="top:403.00px;left:244.30px;">reflect</div>
<div class="t" style="top:403.00px;left:277.30px;">the</div>
<div class="t" style="top:403.00px;left:295.60px;">availability</div>
<div class="t" style="top:403.00px;left:349.10px;">of</div>
<div class="t" style="top:403.00px;left:361.90px;">late</div>
<div class="t" style="top:403.00px;left:382.60px;">reports</div>
<div class="t" style="top:403.00px;left:419.60px;">and</div>
<div class="t" style="top:403.00px;left:441.10px;">corrections</div>
<div class="t" style="top:403.00px;left:497.60px;">by</div>
<div class="t" style="top:403.00px;left:512.20px;">respondents.</div>
</div></body></html>
